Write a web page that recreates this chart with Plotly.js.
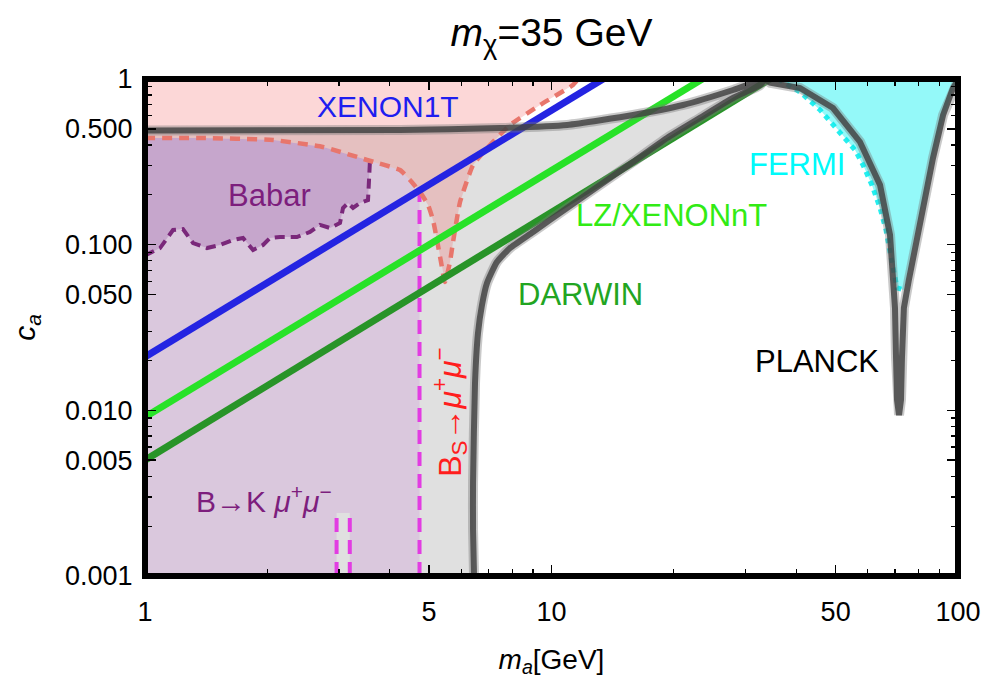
<!DOCTYPE html>
<html>
<head>
<meta charset="utf-8">
<script src="https://cdn.plot.ly/plotly-3.0.1.min.js"></script>
<style>html,body{margin:0;padding:0;background:#fff;}#chart{width:989px;height:680px;}</style>
</head>
<body>
<div id="chart"></div>
<script>
// ---------------- data ----------------
// B_s -> mu+ mu- excluded boundary (red dashed)
const bs_ma = [1.0, 1.366, 2.065, 2.741, 3.517, 4.240, 4.486, 4.749, 4.969, 5.111, 5.228, 5.348, 5.47, 5.627, 5.725, 5.956, 6.412, 7.06, 7.907, 9.37, 11.29, 11.62];
const bs_ca = [0.4405, 0.4405, 0.4284, 0.3887, 0.3245, 0.2823, 0.2457, 0.2080, 0.1736, 0.1409, 0.1067, 0.0786, 0.0595, 0.0786, 0.1038, 0.181, 0.3027, 0.3997, 0.5277, 0.6965, 0.920, 1.0];

// Babar lower boundary (purple dashed)
const babar_ma = [1.0, 1.089, 1.172, 1.240, 1.313, 1.420, 1.529, 1.646, 1.742, 1.844, 1.951, 2.030, 2.148, 2.365, 2.546, 2.695, 2.852, 3.018, 3.070, 3.159, 3.249, 3.380, 3.537, 3.577];
const babar_ca = [0.086, 0.0954, 0.1226, 0.1243, 0.1023, 0.0954, 0.0995, 0.1067, 0.1097, 0.0929, 0.0995, 0.1097, 0.1112, 0.1112, 0.1193, 0.1315, 0.126, 0.1352, 0.1665, 0.1784, 0.1665, 0.1784, 0.186, 0.3245];

// B -> K mu+ mu- excluded region: edge in m_a, its top, and the small window near 3 GeV
const bk_edge_ma = 4.735;
const bk_top_ca = 0.20;
const bk_window_ma = [2.96, 3.19];
const bk_window_ca = 0.0024;

// Relic-density contour (dark gray)
const relic_upper_ma = [1.0, 4.24, 7.47, 10.92, 15.87, 21.07, 27.96, 31.3, 33.5];
const relic_upper_ca = [0.489, 0.492, 0.506, 0.528, 0.606, 0.697, 0.858, 0.946, 1.0];
const relic_lower_ma = [32.6, 27.96, 23.19, 19.24, 15.87, 13.16, 10.92, 9.006, 7.907, 7.34, 6.94, 6.745, 6.595, 6.484, 6.412, 6.412, 6.448];
const relic_lower_ca = [0.920, 0.768, 0.582, 0.4405, 0.3155, 0.2291, 0.1665, 0.1193, 0.0954, 0.0786, 0.0587, 0.0432, 0.0293, 0.01462, 0.00364, 0.0019, 0.001];
const relic_dip_ma = [33.5, 34.5, 40.87, 49.27, 57.4, 64.3, 68.04, 69.2, 69.98, 70.4, 70.8, 71.6, 72.4, 72.8, 73.6, 75.7, 77.5, 82.0, 86.8, 91.9, 97.2, 100];
const relic_dip_ca = [1.0, 0.95, 0.882, 0.668, 0.4167, 0.2291, 0.1144, 0.0656, 0.0415, 0.0207, 0.01155, 0.00937, 0.01155, 0.0207, 0.0415, 0.0612, 0.0831, 0.1665, 0.3336, 0.606, 0.882, 0.98];

// FERMI excluded region (cyan)
const fermi_ma = [36.1, 40.87, 45.8, 51.3, 55.8, 58.4, 61.4, 64.3, 66.5, 68.04, 69.6, 70.8, 73.6, 76.0, 78.0, 80.5, 83.0, 86.0, 89.5, 92.5, 96.0, 99.5];
const fermi_ca = [1.0, 0.835, 0.650, 0.479, 0.373, 0.3027, 0.2291, 0.1665, 0.1226, 0.0903, 0.0703, 0.0548, 0.0533, 0.0754, 0.1067, 0.151, 0.1994, 0.3027, 0.459, 0.606, 0.80, 1.0];

// Direct-detection limits (straight lines in log-log)
const xenon1t_ma = [1.0, 13.4];
const xenon1t_ca = [0.021, 1.0];
const lz_ma = [1.0, 23.5];
const lz_ca = [0.0091, 1.0];
const darwin_ma = [1.0, 34.5];
const darwin_ca = [0.0050, 1.0];

// Axis ticks
const xTickVals = [1, 5, 10, 50, 100];
const xTickText = ["1", "5", "10", "50", "100"];
const xMinorVals = [2, 3, 4, 6, 7, 8, 9, 20, 30, 40, 60, 70, 80, 90];
const yTickVals = [0.001, 0.005, 0.01, 0.05, 0.1, 0.5, 1];
const yTickText = ["0.001", "0.005", "0.010", "0.050", "0.100", "0.500", "1"];
const yMinorVals = [0.002, 0.003, 0.004, 0.006, 0.007, 0.008, 0.009, 0.02, 0.03, 0.04, 0.06, 0.07, 0.08, 0.09, 0.2, 0.3, 0.4, 0.6, 0.7, 0.8, 0.9];

// ---------------- build polygons from the data ----------------
const FONT = "Liberation Sans, Arial, sans-serif";
const traces = [];

// light-gray region enclosed by the relic contour
traces.push({
  x: [relic_upper_ma[0]].concat(relic_upper_ma, relic_lower_ma),
  y: [0.001].concat(relic_upper_ca, relic_lower_ca),
  mode: "lines", fill: "toself", fillcolor: "rgb(224,224,224)",
  line: {width: 0, color: "rgba(0,0,0,0)"}, hoverinfo: "skip"
});

// B -> K mu mu lavender region (below the Bs curve, left of the edge)
(function () {
  const xs = [1, bk_window_ma[0], bk_window_ma[0], bk_window_ma[1], bk_window_ma[1], bk_edge_ma, bk_edge_ma];
  const ys = [0.001, 0.001, bk_window_ca, bk_window_ca, 0.001, 0.001, bk_top_ca];
  for (let i = bs_ma.length - 1; i >= 0; i--) {
    if (bs_ma[i] < bk_edge_ma) { xs.push(bs_ma[i]); ys.push(bs_ca[i]); }
  }
  traces.push({x: xs, y: ys, mode: "lines", fill: "toself", fillcolor: "rgb(218,200,221)",
    line: {width: 0, color: "rgba(0,0,0,0)"}, hoverinfo: "skip"});
})();

// Babar region
(function () {
  const xs = babar_ma.slice(), ys = babar_ca.slice();
  const xmax = babar_ma[babar_ma.length - 1];
  for (let i = bs_ma.length - 1; i >= 0; i--) {
    if (bs_ma[i] <= xmax) { xs.push(bs_ma[i]); ys.push(bs_ca[i]); }
  }
  traces.push({x: xs, y: ys, mode: "lines", fill: "toself", fillcolor: "rgb(198,166,204)",
    line: {width: 0, color: "rgba(0,0,0,0)"}, hoverinfo: "skip"});
})();

// FERMI region
traces.push({x: fermi_ma, y: fermi_ca, mode: "lines", fill: "toself", fillcolor: "rgba(0,240,240,0.42)",
  line: {width: 0, color: "rgba(0,0,0,0)"}, hoverinfo: "skip"});

// Bs -> mu mu pink region (above the red dashed curve)
traces.push({x: [1].concat(bs_ma), y: [1].concat(bs_ca), mode: "lines", fill: "toself",
  fillcolor: "rgba(245,110,110,0.28)", line: {width: 0, color: "rgba(0,0,0,0)"}, hoverinfo: "skip"});

// ---------------- boundary lines ----------------
traces.push({x: babar_ma, y: babar_ca, mode: "lines",
  line: {color: "rgb(122,40,122)", width: 4, dash: "10px,6px"}, hoverinfo: "skip"});
const magenta = {color: "rgb(226,60,226)", width: 4, dash: "14px,8px"};
traces.push({x: [bk_edge_ma, bk_edge_ma], y: [0.001, bk_top_ca], mode: "lines", line: magenta, hoverinfo: "skip"});
traces.push({x: [bk_window_ma[0], bk_window_ma[0]], y: [0.001, bk_window_ca], mode: "lines", line: magenta, hoverinfo: "skip"});
traces.push({x: [bk_window_ma[1], bk_window_ma[1]], y: [0.001, bk_window_ca], mode: "lines", line: magenta, hoverinfo: "skip"});
traces.push({x: bs_ma, y: bs_ca, mode: "lines",
  line: {color: "rgb(232,118,108)", width: 4.5, dash: "10px,7px", shape: "spline", smoothing: 0.4}, hoverinfo: "skip"});
traces.push({x: fermi_ma.slice(0, 13), y: fermi_ca.slice(0, 13), mode: "lines",
  line: {color: "rgba(0,235,235,0.85)", width: 5, dash: "dot"}, hoverinfo: "skip"});

// direct detection lines
traces.push({x: xenon1t_ma, y: xenon1t_ca, mode: "lines", line: {color: "rgb(36,36,226)", width: 7}, hoverinfo: "skip"});
traces.push({x: lz_ma, y: lz_ca, mode: "lines", line: {color: "rgb(40,226,40)", width: 7}, hoverinfo: "skip"});
traces.push({x: darwin_ma, y: darwin_ca, mode: "lines", line: {color: "rgb(40,148,40)", width: 7}, hoverinfo: "skip"});

// relic contour (halo + core)
const relicX = relic_upper_ma.concat(relic_lower_ma);
const relicY = relic_upper_ca.concat(relic_lower_ca);
[[10, "rgba(120,120,120,0.4)"], [6, "rgba(65,65,65,0.82)"]].forEach(function (s) {
  traces.push({x: relicX, y: relicY, mode: "lines", line: {color: s[1], width: s[0], shape: "spline", smoothing: 0.5}, hoverinfo: "skip"});
  traces.push({x: relic_dip_ma, y: relic_dip_ca, mode: "lines", line: {color: s[1], width: s[0]}, hoverinfo: "skip"});
});

// ---------------- labels ----------------
function lab(text, xv, yv, color, size, angle) {
  return {text: text, x: Math.log10(xv), y: Math.log10(yv), xref: "x", yref: "y", showarrow: false,
    font: {family: FONT, size: size, color: color}, textangle: angle || 0, xanchor: "center", yanchor: "middle"};
}
const annotations = [
  lab("XENON1T", 3.96, 0.687, "rgb(30,30,240)", 30),
  lab("Babar", 2.02, 0.199, "rgb(125,30,125)", 31),
  lab("FERMI", 40.2, 0.303, "rgb(0,250,250)", 31),
  lab("LZ/XENONnT", 19.7, 0.15, "rgb(50,235,20)", 31),
  lab("DARWIN", 11.8, 0.0497, "rgb(34,165,34)", 31),
  lab("PLANCK", 45.0, 0.0197, "black", 31),
  lab("B→K <i>μ</i><sup>+</sup><i>μ</i><sup>−</sup>", 1.96, 0.0029, "rgb(125,30,125)", 30),
  lab("B<sub>S</sub>→<i>μ</i><sup>+</sup><i>μ</i><sup>−</sup>", 5.63, 0.0098, "rgb(255,30,30)", 32, -90)
];

const axisCommon = {
  type: "log", tickmode: "array", ticks: "inside", ticklen: 11, tickwidth: 1.5, tickcolor: "black",
  showline: true, linecolor: "black", linewidth: 1, mirror: "ticks", showgrid: false, zeroline: false,
  tickfont: {family: FONT, size: 27, color: "black"}
};

const layout = {
  width: 989, height: 680,
  margin: {l: 145, r: 31, t: 79, b: 104},
  paper_bgcolor: "white", plot_bgcolor: "white",
  showlegend: false,
  title: {text: "<i>m</i><sub>χ</sub>=35 GeV", font: {family: FONT, size: 39, color: "black"},
    x: 0.5, xref: "paper", y: 0.953, yref: "container", yanchor: "middle"},
  xaxis: Object.assign({}, axisCommon, {
    range: [0, 2], tickvals: xTickVals, ticktext: xTickText, ticklabelstandoff: 12,
    minor: {tickmode: "array", tickvals: xMinorVals, ticks: "inside", ticklen: 7, tickwidth: 1.2, tickcolor: "black"},
    title: {text: "<i>m</i><sub><i>a</i></sub>[GeV]", font: {family: FONT, size: 28, color: "black"}, standoff: 22}
  }),
  yaxis: Object.assign({}, axisCommon, {
    range: [-3, 0], tickvals: yTickVals, ticktext: yTickText, ticklabelstandoff: 6,
    minor: {tickmode: "array", tickvals: yMinorVals, ticks: "inside", ticklen: 7, tickwidth: 1.2, tickcolor: "black"},
    title: {text: "<i>c</i><sub><i>a</i></sub>", font: {family: FONT, size: 30, color: "black"}, standoff: 20}
  }),
  shapes: [{type: "rect", xref: "paper", yref: "paper", x0: 0, x1: 1, y0: 0, y1: 1,
    line: {color: "black", width: 6}, layer: "above"}],
  annotations: annotations
};

Plotly.newPlot("chart", traces, layout, {displayModeBar: false, staticPlot: true});
</script>
</body>
</html>
